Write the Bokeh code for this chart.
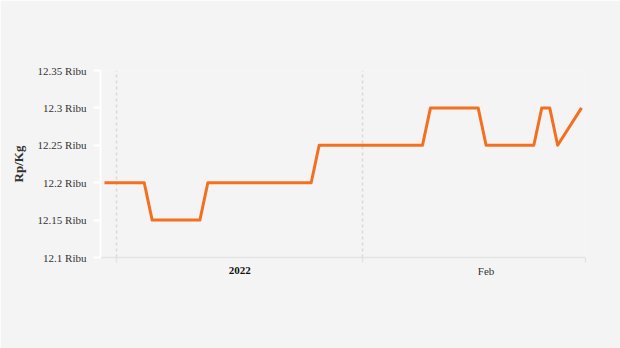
import pandas as pd
from bokeh.plotting import figure
from bokeh.models import (Range1d, FixedTicker, CustomJSTickFormatter, LinearAxis, ColumnDataSource)
from bokeh.embed import file_html
from bokeh.resources import INLINE

# ---- data ----
dates = [
    "2021-12-30", "2021-12-31",
    "2022-01-01", "2022-01-02", "2022-01-03", "2022-01-04", "2022-01-05", "2022-01-06",
    "2022-01-07", "2022-01-08", "2022-01-09", "2022-01-10", "2022-01-11", "2022-01-12",
    "2022-01-13", "2022-01-14", "2022-01-15", "2022-01-16", "2022-01-17", "2022-01-18",
    "2022-01-19", "2022-01-20", "2022-01-21", "2022-01-22", "2022-01-23", "2022-01-24",
    "2022-01-25", "2022-01-26", "2022-01-27", "2022-01-28", "2022-01-29", "2022-01-30",
    "2022-01-31",
    "2022-02-01", "2022-02-02", "2022-02-03", "2022-02-04", "2022-02-05", "2022-02-06",
    "2022-02-07", "2022-02-08", "2022-02-09", "2022-02-10", "2022-02-11", "2022-02-12",
    "2022-02-13", "2022-02-14", "2022-02-15", "2022-02-16", "2022-02-17", "2022-02-18",
    "2022-02-19", "2022-02-20", "2022-02-21", "2022-02-22", "2022-02-23", "2022-02-24",
    "2022-02-25", "2022-02-28",
]
prices = [
    12200, 12200,
    12200, 12200, 12200, 12200, 12150, 12150,
    12150, 12150, 12150, 12150, 12150, 12200,
    12200, 12200, 12200, 12200, 12200, 12200,
    12200, 12200, 12200, 12200, 12200, 12200,
    12200, 12250, 12250, 12250, 12250, 12250,
    12250,
    12250, 12250, 12250, 12250, 12250, 12250,
    12250, 12250, 12300, 12300, 12300, 12300,
    12300, 12300, 12300, 12250, 12250, 12250,
    12250, 12250, 12250, 12250, 12300, 12300,
    12250, 12300,
]
y_ticks = [12100, 12150, 12200, 12250, 12300, 12350]
month_starts = ["2022-01-01", "2022-02-01", "2022-03-01"]
x_start, x_end = "2021-12-30", "2022-03-01"
year_tick_date = "2022-01-01"   # labelled with the year (bold)
month_tick_date = "2022-02-01"  # labelled with the month name

FONT = "Liberation Serif"
BG = "#f4f4f4"

def ms(d):
    return pd.Timestamp(d).value / 1e6

half_day = 12 * 3600 * 1000
xs = [ms(d) + half_day for d in dates]
src = ColumnDataSource(dict(x=xs, y=prices))

p = figure(width=620, height=348, output_backend="svg", toolbar_location=None,
           x_range=Range1d(ms(x_start), ms(x_end)), y_range=Range1d(12100, 12350),
           min_border_left=100, min_border_right=35, min_border_top=70, min_border_bottom=91,
           background_fill_color=BG, border_fill_color=BG, outline_line_color=None)

p.line("x", "y", source=src, line_color="#f37021", line_width=3, line_join="round")

# y axis
ya = p.yaxis[0]
ya.ticker = FixedTicker(ticks=y_ticks)
ya.formatter = CustomJSTickFormatter(code="return (tick/1000).toString() + ' Ribu';")
ya.axis_line_color = "white"
ya.axis_line_width = 2
ya.major_tick_line_color = "white"
ya.major_tick_line_width = 2
ya.major_tick_out = 7
ya.major_tick_in = 0
ya.minor_tick_line_color = None
ya.major_label_standoff = 7
ya.major_label_text_font = FONT
ya.major_label_text_font_size = "11px"
ya.major_label_text_color = "#333333"
ya.axis_label = "Rp/Kg"
ya.axis_label_text_font = FONT
ya.axis_label_text_font_size = "13px"
ya.axis_label_text_font_style = "bold"
ya.axis_label_text_color = "#333333"
ya.axis_label_standoff = 9

# x axis (month label, month-boundary ticks)
label_offset = 15.5 * 24 * 3600 * 1000
xa = p.xaxis[0]
xa.ticker = FixedTicker(ticks=[ms(month_tick_date) + label_offset],
                        minor_ticks=[ms(d) for d in month_starts])
xa.formatter = CustomJSTickFormatter(
    code="return new Date(tick).toLocaleString('en', {month: 'short', timeZone: 'UTC'});")
xa.axis_line_color = "#e3e3e3"
xa.axis_line_width = 1.5
xa.major_tick_line_color = None
xa.major_tick_out = 0
xa.major_tick_in = 0
xa.minor_tick_line_color = "#e3e3e3"
xa.minor_tick_line_width = 1.5
xa.minor_tick_out = 5
xa.minor_tick_in = 0
xa.major_label_standoff = 2
xa.major_label_text_font = FONT
xa.major_label_text_font_size = "11px"
xa.major_label_text_color = "#333333"

# second x axis for the bold year label, pulled up to the same line
ya2 = LinearAxis(ticker=FixedTicker(ticks=[ms(year_tick_date) + label_offset]),
                 formatter=CustomJSTickFormatter(
                     code="return new Date(tick).getUTCFullYear().toString();"),
                 axis_line_color=None, major_tick_line_color=None, minor_tick_line_color=None,
                 major_tick_out=0, major_tick_in=0, minor_tick_out=0, minor_tick_in=0,
                 major_label_standoff=-13,
                 major_label_text_font=FONT, major_label_text_font_size="11px",
                 major_label_text_font_style="bold", major_label_text_color="#111111")
p.add_layout(ya2, "below")

p.xgrid.ticker = FixedTicker(ticks=[ms(d) for d in month_starts])
p.xgrid.grid_line_color = "#d9d9d9"
p.xgrid.grid_line_dash = "3 3"
p.xgrid.grid_line_width = 1.5
p.ygrid.grid_line_color = None

open("out.html", "w").write(file_html(p, INLINE))
